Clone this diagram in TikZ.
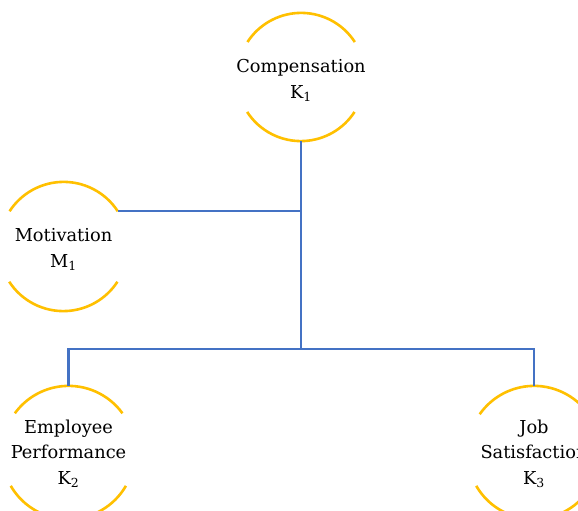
\documentclass[tikz,border=0pt]{standalone}
\usepackage{fontspec}
\setmainfont{DejaVu Serif}
\usetikzlibrary{calc}
\definecolor{ringgold}{HTML}{FFC000}
\definecolor{linkblue}{HTML}{4472C4}
\begin{document}
\begin{tikzpicture}[x=1pt,y=1pt,
  ringc/.style={circle,inner sep=0pt,minimum size=#1},
  ring/.style={draw=ringgold,line width=2.6pt},
  link/.style={draw=linkblue,line width=2.2pt},
  label/.style={align=center,inner sep=0pt,font=\fontsize{17.8pt}{25.5pt}\selectfont}]
\fill[white] (0,0) rectangle (578,511);
\useasboundingbox (0,0) rectangle (578,511);

% circle outlines (invisible nodes) and their captions
\node[ringc=128pt]  (compC) at (301,434) {};
\node[ringc=129pt]  (motC)  at (63.5,264.5) {};
\node[ringc=133pt]  (empC)  at (68.5,58.5) {};
\node[ringc=133pt]  (jobC)  at (534,58.5) {};

\node[label] (compT) at (301,430.5) {Compensation\\K\textsubscript{1}};
\node[label] (motT)  at (63.5,261.5) {Motivation\\M\textsubscript{1}};
\node[label] (empT)  at (68.5,57.5) {Employee\\Performance\\K\textsubscript{2}};
\node[label] (jobT)  at (534,57.5) {Job\\Satisfaction\\K\textsubscript{3}};

% open rings: upper and lower arcs only
\draw[ring] (compC.33) arc[start angle=33,end angle=147,radius=64pt];
\draw[ring] (compC.213) arc[start angle=213,end angle=327,radius=64pt];
\draw[ring] (motC.33) arc[start angle=33,end angle=147,radius=64.5pt];
\draw[ring] (motC.213) arc[start angle=213,end angle=327,radius=64.5pt];
\draw[ring] (empC.36) arc[start angle=36,end angle=144,radius=66.5pt];
\draw[ring] (empC.210) arc[start angle=210,end angle=330,radius=66.5pt];
\draw[ring] (jobC.35) arc[start angle=35,end angle=145,radius=66.5pt];
\draw[ring] (jobC.210) arc[start angle=210,end angle=330,radius=66.5pt];

% connectors
\coordinate (hub) at (301,162);
\coordinate (motJ) at (301,0 |- motC.33);
\draw[link] (compC.south) -- (hub);
\draw[link] (motC.33) -- (motJ);
\draw[link] (empC.north) |- (hub) -| (jobC.north);
\end{tikzpicture}
\end{document}
